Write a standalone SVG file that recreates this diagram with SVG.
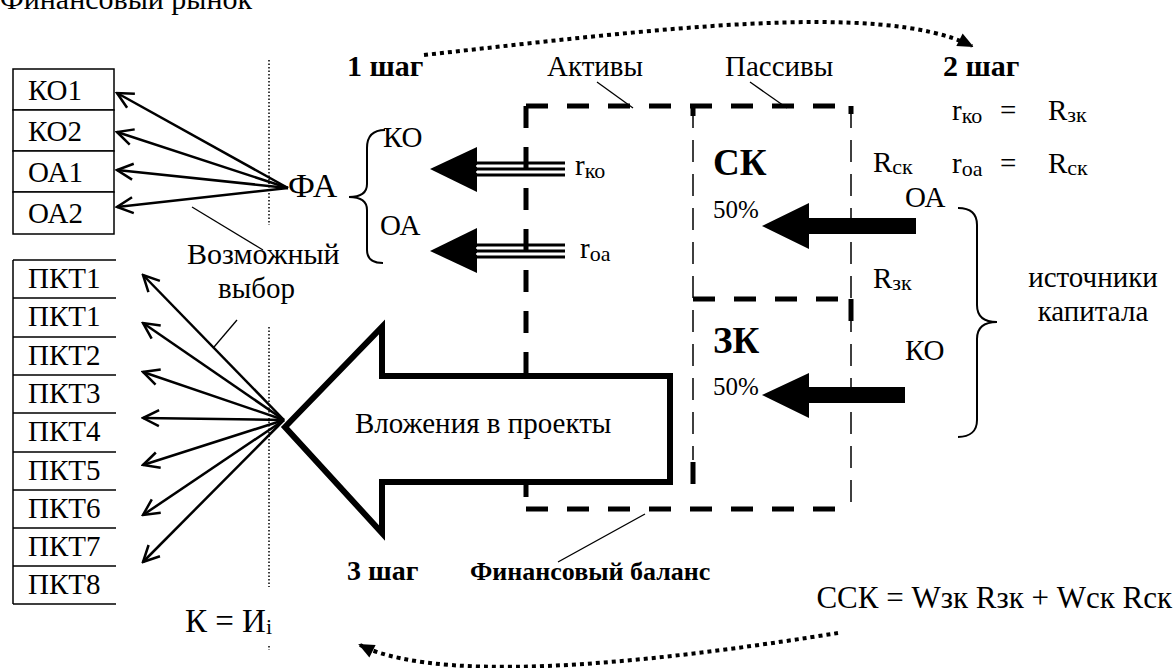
<svg xmlns="http://www.w3.org/2000/svg" width="1176" height="668" viewBox="0 0 1176 668">
<style>
text{font-family:"Liberation Serif","Times New Roman",serif;font-size:29px;fill:#000}
.b{font-weight:bold;font-size:30px}
.big{font-weight:bold;font-size:37px}
.pct{font-size:25px}
.sub{font-size:22px}
.box{fill:#fff;stroke:#000;stroke-width:1.5}
.hl{stroke:#000;stroke-width:1.5;fill:none}
.fan{stroke:#000;stroke-width:2.5;fill:none;marker-end:url(#open)}
.leader{stroke:#000;stroke-width:1.3;fill:none}
.vdot{stroke:#000;stroke-width:1.5;stroke-dasharray:1.5 2;fill:none}
.thick{stroke:#000;stroke-width:5;stroke-dasharray:22 19;fill:none}
.thin{stroke:#000;stroke-width:1.5;stroke-dasharray:22 12;fill:none}
.dotcurve{stroke:#000;stroke-width:4;stroke-dasharray:4 4;fill:none}
.brace{stroke:#000;stroke-width:2;fill:none}
</style>
<defs>
<marker id="open" viewBox="0 0 20 20" refX="18" refY="10" markerWidth="20" markerHeight="20" markerUnits="userSpaceOnUse" orient="auto">
<path d="M2,2 L18,10 L2,18" fill="none" stroke="#000" stroke-width="2.5"/>
</marker>
<marker id="dothead" viewBox="0 0 20 20" refX="16" refY="10" markerWidth="20" markerHeight="20" markerUnits="userSpaceOnUse" orient="auto">
<path d="M2,3 L18,10 L2,17 Z" fill="#000"/>
</marker>
</defs>

<text id="title" x="0" y="9" style="font-size:30px">Финансовый рынок</text>

<g id="fa-boxes">
<rect class="box" x="13" y="69" width="101" height="41"/>
<rect class="box" x="13" y="110" width="101" height="41"/>
<rect class="box" x="13" y="151" width="101" height="41"/>
<rect class="box" x="13" y="192" width="101" height="42"/>
<text x="28" y="100">КО1</text>
<text x="28" y="141">КО2</text>
<text x="28" y="182">ОА1</text>
<text x="28" y="223">ОА2</text>
</g>

<g id="pkt-boxes">
<path class="hl" d="M13,260 V604 M13,260 H116 M13,298 H116 M13,337 H116 M13,375 H116 M13,413 H116 M13,452 H116 M13,490 H116 M13,528 H116 M13,566 H116 M13,604 H116"/>
<text x="28" y="288">ПКТ1</text>
<text x="28" y="326">ПКТ1</text>
<text x="28" y="365">ПКТ2</text>
<text x="28" y="403">ПКТ3</text>
<text x="28" y="441">ПКТ4</text>
<text x="28" y="480">ПКТ5</text>
<text x="28" y="518">ПКТ6</text>
<text x="28" y="556">ПКТ7</text>
<text x="28" y="594">ПКТ8</text>
</g>

<g id="dividers">
<path class="vdot" d="M269,60 V225 M269,327 V587 M269,646 V650"/>
</g>

<g id="fa">
<text x="288" y="197" style="font-size:34px">ФА</text>
<path class="brace" d="M385,130 C372,130 367,137 367,148 L367,184 C367,193 360,197 349,197 C360,197 367,201 367,210 L367,250 C367,259 372,263 383,263"/>
<text x="383" y="147">КО</text>
<text x="380" y="235">ОА</text>
</g>

<g id="choice-label">
<text x="187" y="264" style="font-size:30px">Возможный</text>
<text x="218" y="298">выбор</text>
</g>

<g id="rko-arrow">
<path d="M430,169 L477,147 L477,192 Z" fill="#000"/>
<path d="M476,163 H565 M476,169 H565 M476,175 H565" stroke="#000" stroke-width="3" fill="none"/>
<path d="M476,166 H565 M476,172 H565" stroke="#fff" stroke-width="1.4" fill="none"/>
<text x="575" y="175">r<tspan class="sub" dy="3">ко</tspan></text>
</g>

<g id="roa-arrow">
<path d="M430,251 L477,228 L477,273 Z" fill="#000"/>
<path d="M476,245 H565 M476,251 H565 M476,257 H565" stroke="#000" stroke-width="3" fill="none"/>
<path d="M476,248 H565 M476,254 H565" stroke="#fff" stroke-width="1.4" fill="none"/>
<text x="580" y="258">r<tspan class="sub" dy="3">оа</tspan></text>
</g>

<g id="balance">
<path class="thin" d="M851,106 V509"/>
<path class="thin" d="M693,106 V460"/>
<path class="thick" d="M693,106 V116 M693,462 V500 M851,106 V114 M851,299 V322"/>
<path class="thick" d="M526,106 H853"/>
<path class="thick" d="M526,106 V509"/>
<path class="thick" d="M526,509 H850"/>
<path class="thick" d="M693,299 H851"/>
<text x="547" y="76">Активы</text>
<text x="725" y="76">Пассивы</text>
<text class="big" x="713" y="175">СК</text>
<text class="pct" x="713" y="218">50%</text>
<text class="big" x="713" y="353">ЗК</text>
<text class="pct" x="713" y="395">50%</text>
</g>

<g id="invest-arrow">
<path d="M285,427 L382,327 L382,376 L670,376 L670,482 L382,482 L382,533 Z" fill="#fff" stroke="#000" stroke-width="6" stroke-linejoin="miter"/>
<text x="355" y="433">Вложения в проекты</text>
</g>

<g id="ck-arrow">
<path d="M762,226 L809,203 L809,218 L916,218 L916,234 L809,234 L809,249 Z" fill="#000"/>
</g>
<g id="zk-arrow">
<path d="M762,395 L809,373 L809,387 L905,387 L905,403 L809,403 L809,418 Z" fill="#000"/>
</g>

<g id="rates">
<text x="873" y="172">R<tspan class="sub" dy="2">ск</tspan></text>
<text x="873" y="288">R<tspan class="sub" dy="2">зк</tspan></text>
<text x="952" y="120">r<tspan class="sub" dy="3">ко</tspan><tspan x="1000" dy="-3">=</tspan><tspan x="1048">R</tspan><tspan class="sub" dy="2">зк</tspan></text>
<text x="952" y="173">r<tspan class="sub" dy="3">оа</tspan><tspan x="1000" dy="-3">=</tspan><tspan x="1048">R</tspan><tspan class="sub" dy="2">ск</tspan></text>
</g>

<g id="sources">
<text x="905" y="207">ОА</text>
<text x="905" y="360">КО</text>
<path class="brace" d="M958,208 C970,208 977,213 977,225 L977,305 C977,316 984,322 997,322 C984,322 977,328 977,339 L977,420 C977,431 970,437 958,437"/>
<text x="1093" y="287" text-anchor="middle">источники</text>
<text x="1093" y="321" text-anchor="middle">капитала</text>
</g>

<g id="steps">
<text class="b" x="347" y="76">1 шаг</text>
<text class="b" x="943" y="76">2 шаг</text>
<text class="b" x="347" y="580" style="font-size:28px">3 шаг</text>
<text class="b" x="470" y="580" style="font-size:26px">Финансовый баланс</text>
</g>

<g id="formulas">
<text x="185" y="632" style="font-size:33px">К = И<tspan class="sub" dy="2">i</tspan></text>
<text x="1172" y="608" text-anchor="end" style="font-size:31px">ССК = Wзк Rзк + Wск Rск</text>
</g>

<g id="connectors">
<line class="fan" x1="288" y1="188" x2="117" y2="93"/>
<line class="fan" x1="288" y1="188" x2="117" y2="132"/>
<line class="fan" x1="288" y1="188" x2="117" y2="170"/>
<line class="fan" x1="288" y1="188" x2="117" y2="207"/>
<line class="fan" x1="284" y1="420" x2="143" y2="275"/>
<line class="fan" x1="284" y1="420" x2="143" y2="323"/>
<line class="fan" x1="284" y1="420" x2="143" y2="372"/>
<line class="fan" x1="284" y1="420" x2="143" y2="418"/>
<line class="fan" x1="284" y1="420" x2="143" y2="465"/>
<line class="fan" x1="284" y1="420" x2="143" y2="515"/>
<line class="fan" x1="284" y1="420" x2="143" y2="562"/>
<line class="leader" x1="192" y1="207" x2="263" y2="250"/>
<line class="leader" x1="237" y1="320" x2="214" y2="347"/>
<line class="leader" x1="597" y1="82" x2="633" y2="108"/>
<line class="leader" x1="750" y1="82" x2="787" y2="108"/>
<line class="leader" x1="645" y1="514" x2="558" y2="562"/>
<path class="dotcurve" d="M424,55 C650,30 880,0 972,46" marker-end="url(#dothead)"/>
<path class="dotcurve" d="M838,633 C700,655 450,690 360,645" marker-end="url(#dothead)"/>
</g>
</svg>
